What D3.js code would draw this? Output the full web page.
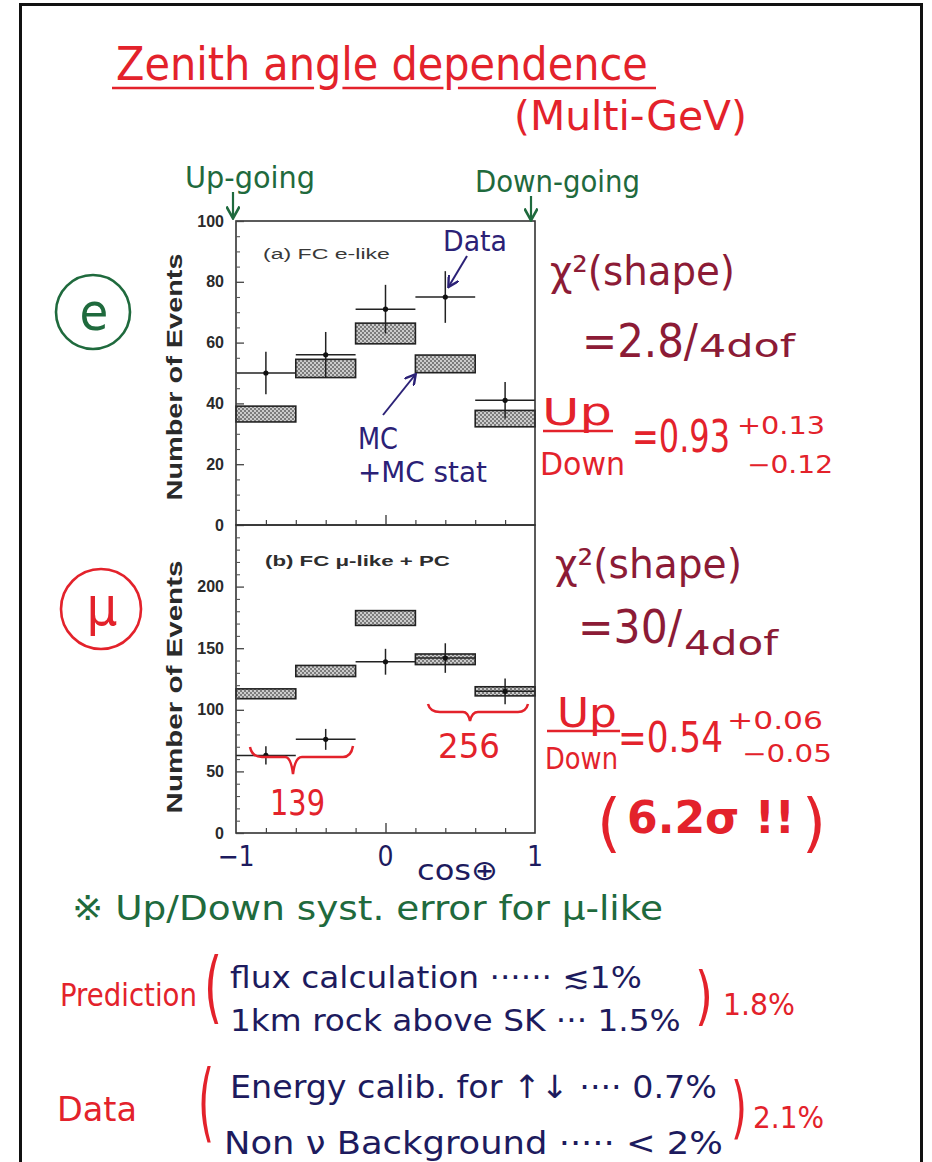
<!DOCTYPE html>
<html><head><meta charset="utf-8">
<script src="https://cdn.jsdelivr.net/npm/d3@7"></script>
<style>body{margin:0;background:#fff}</style></head>
<body><svg id="c" width="932" height="1162"></svg>
<script>
// ---- data ----
const binLo = [-1, -0.6, -0.2, 0.2, 0.6];
const binHi = [-0.6, -0.2, 0.2, 0.6, 1];
const binMid = [-0.8, -0.4, 0, 0.4, 0.8];
const eData = [50, 56, 71, 75, 41];
const eDataErr = [7, 7.5, 8, 8.5, 6];
const eMC = [36.5, 51.5, 63, 53, 35];
const eMCErr = [2.6, 3, 3.4, 2.9, 2.7];
const muData = [63, 76, 139, 142, 115];
const muDataErr = [7.5, 8.5, 10.5, 12, 10.5];
const muMC = [113, 131.5, 174.5, 141, 115];
const muMCErr = [4, 4.5, 6, 4.3, 3.7];
const xTicks = [-1, -0.8, -0.6, -0.4, -0.2, 0, 0.2, 0.4, 0.6, 0.8, 1];
const eYTicks = [0, 20, 40, 60, 80, 100];
const muYTicks = [0, 50, 100, 150, 200];
const xLabels = [["−1", -1], ["0", 0], ["1", 1]];

const HAND = "'DejaVu Sans Condensed','Liberation Sans Narrow','DejaVu Sans',sans-serif";
const ARIAL = "'Liberation Sans',Arial,sans-serif";
const RED = "#e3222b", GREEN = "#1f6a3d", MAROON = "#8c1b36", NAVY = "#1d1b5e", PURPLE = "#2b2176";

const svg = d3.select("#c");
const defs = svg.append("defs");
const pat = defs.append("pattern").attr("id", "hatch").attr("patternUnits", "userSpaceOnUse")
  .attr("width", 4).attr("height", 4);
pat.append("rect").attr("width", 4).attr("height", 4).attr("fill", "#7c7c7c");
pat.append("circle").attr("cx", 1).attr("cy", 1).attr("r", 0.9).attr("fill", "#f2f2f2");
pat.append("circle").attr("cx", 3).attr("cy", 3).attr("r", 0.9).attr("fill", "#f2f2f2");
const mk = defs.append("marker").attr("id", "ah").attr("viewBox", "0 0 10 10").attr("refX", 8).attr("refY", 5)
  .attr("markerWidth", 6).attr("markerHeight", 6).attr("orient", "auto-start-reverse");
mk.append("path").attr("d", "M0,0 L9,5 L0,10").attr("fill", "none").attr("stroke", "context-stroke").attr("stroke-width", 2);

// outer border
svg.append("rect").attr("x", 20.5).attr("y", 4.5).attr("width", 901).attr("height", 1175)
  .attr("fill", "none").attr("stroke", "#111").attr("stroke-width", 3);

// text helper: width is fitted by a horizontal scale so the box stays true
function txt(x, y, s, size, color, width, opts = {}) {
  const t = svg.append("text").attr("x", 0).attr("y", 0).text(s)
    .attr("font-family", opts.font || HAND).attr("font-size", size).attr("fill", color)
    .attr("font-weight", opts.weight || "normal");
  if (opts.anchor) t.attr("text-anchor", opts.anchor);
  let sx = 1;
  if (width) {
    const w = t.node().getComputedTextLength();
    if (w > 0) sx = width / w;
  }
  t.attr("transform", `translate(${x},${y}) scale(${sx},1)`);
  return t;
}
function arrow(x1, y1, x2, y2, color, w) {
  svg.append("line").attr("x1", x1).attr("y1", y1).attr("x2", x2).attr("y2", y2)
    .attr("stroke", color).attr("stroke-width", w || 2).attr("marker-end", "url(#ah)");
}

// ---- panels ----
function panel(cfg) {
  const x = d3.scaleLinear().domain([-1, 1]).range(cfg.xr);
  const y = d3.scaleLinear().domain(cfg.yd).range(cfg.yr);
  const g = svg.append("g");
  g.selectAll("rect.mc").data(cfg.mc).join("rect").attr("class", "mc")
    .attr("x", (d, i) => x(binLo[i])).attr("width", (d, i) => x(binHi[i]) - x(binLo[i]))
    .attr("y", (d, i) => y(d + cfg.mcErr[i])).attr("height", (d, i) => y(d - cfg.mcErr[i]) - y(d + cfg.mcErr[i]))
    .attr("fill", "url(#hatch)").attr("stroke", "#222").attr("stroke-width", 1.6);
  g.selectAll("line.h").data(cfg.data).join("line").attr("class", "h")
    .attr("x1", (d, i) => x(binLo[i])).attr("x2", (d, i) => x(binHi[i]))
    .attr("y1", d => y(d)).attr("y2", d => y(d)).attr("stroke", "#222").attr("stroke-width", 1.5);
  g.selectAll("line.v").data(cfg.data).join("line").attr("class", "v")
    .attr("x1", (d, i) => x(binMid[i])).attr("x2", (d, i) => x(binMid[i]))
    .attr("y1", (d, i) => y(d + cfg.err[i])).attr("y2", (d, i) => y(d - cfg.err[i]))
    .attr("stroke", "#222").attr("stroke-width", 1.5);
  g.selectAll("circle.p").data(cfg.data).join("circle").attr("class", "p")
    .attr("cx", (d, i) => x(binMid[i])).attr("cy", d => y(d)).attr("r", 2.6).attr("fill", "#111");
  g.append("rect").attr("x", cfg.xr[0]).attr("y", cfg.yr[1]).attr("width", cfg.xr[1] - cfg.xr[0])
    .attr("height", cfg.yr[0] - cfg.yr[1]).attr("fill", "none").attr("stroke", "#333").attr("stroke-width", 1.6);
  const ya = g.append("g").attr("transform", `translate(${cfg.xr[0]},0)`)
    .call(d3.axisLeft(y).tickValues(cfg.yTicks).tickSize(-8).tickPadding(12));
  ya.select(".domain").remove();
  ya.selectAll("text").attr("font-family", ARIAL).attr("font-size", 16).attr("fill", "#2a2a2a").attr("font-weight", "bold");
  ya.selectAll("line").attr("stroke", "#444").attr("stroke-width", 1.3);
  const ym = g.append("g").attr("transform", `translate(${cfg.xr[0]},0)`)
    .call(d3.axisLeft(y).tickValues(d3.range(cfg.yd[0], cfg.yd[1], cfg.minor).filter(v => !cfg.yTicks.includes(v)))
      .tickSize(-4).tickFormat(""));
  ym.select(".domain").remove();
  ym.selectAll("line").attr("stroke", "#555").attr("stroke-width", 1.1);
  const xa = g.append("g").attr("transform", `translate(0,${cfg.yr[0]})`)
    .call(d3.axisBottom(x).tickValues(xTicks.filter(v => v !== 0 && Math.abs(v) !== 1)).tickSize(-5).tickFormat(""));
  xa.select(".domain").remove();
  xa.selectAll("line").attr("stroke", "#444").attr("stroke-width", 1.2);
  const xm = g.append("g").attr("transform", `translate(0,${cfg.yr[0]})`)
    .call(d3.axisBottom(x).tickValues([0]).tickSize(-10).tickFormat(""));
  xm.select(".domain").remove();
  xm.selectAll("line").attr("stroke", "#444").attr("stroke-width", 1.4);
  const yt = svg.append("text").attr("text-anchor", "middle").attr("font-family", ARIAL).attr("font-size", 22)
    .attr("font-weight", "bold").attr("fill", "#2a2a2a").text("Number of Events");
  const w = yt.node().getComputedTextLength() || cfg.titleW;
  yt.attr("transform", `translate(182,${cfg.titleY}) rotate(-90) scale(${cfg.titleW / w},1)`);
  return { x, y };
}

const panelE = panel({ xr: [236, 535], yr: [525, 221], yd: [0, 100], yTicks: eYTicks, minor: 5,
  data: eData, err: eDataErr, mc: eMC, mcErr: eMCErr, titleY: 377, titleW: 247 });
const panelMu = panel({ xr: [236, 535], yr: [833, 525], yd: [0, 250], yTicks: muYTicks, minor: 10,
  data: muData, err: muDataErr, mc: muMC, mcErr: muMCErr, titleY: 687, titleW: 253 });

txt(263, 259, "(a) FC e-like", 15, "#383838", 127, { font: ARIAL });
txt(265, 566, "(b) FC μ-like + PC", 15, "#2e2e2e", 185, { font: ARIAL, weight: "bold" });

xLabels.forEach(([s, v]) => txt(panelMu.x(v), 866, s, 28, NAVY, null, { anchor: "middle" }));
txt(417, 880, "cos⊕", 28, NAVY, 81);

// ---- title ----
const title = txt(116, 80, "Zenith angle dependence", 46, RED, 532);
(function underline() {
  const n = title.node();
  const sx = 532 / (n.getComputedTextLength() || 532);
  let gx = [346, 370], px = [480, 498];
  try {
    const eg = n.getExtentOfChar(9), ep = n.getExtentOfChar(15);
    gx = [116 + eg.x * sx - 1, 116 + (eg.x + eg.width) * sx + 1];
    px = [116 + ep.x * sx, 116 + (ep.x + ep.width * 0.55) * sx];
  } catch (e) {}
  [[112, gx[0]], [gx[1], px[0]], [px[1], 656]].forEach(([a, b]) =>
    svg.append("line").attr("x1", a).attr("x2", b).attr("y1", 88).attr("y2", 88).attr("stroke", RED).attr("stroke-width", 2.5));
})();
txt(514, 130, "(Multi-GeV)", 40, RED, 233);

txt(185, 188, "Up-going", 30, GREEN, 130);
txt(475, 192, "Down-going", 30, GREEN, 165);
arrow(233, 192, 233, 217, GREEN, 2.2);
arrow(531, 196, 531, 219, GREEN, 2.2);

svg.append("circle").attr("cx", 93).attr("cy", 312).attr("r", 37).attr("fill", "none").attr("stroke", GREEN).attr("stroke-width", 2.6);
txt(94, 330, "e", 52, GREEN, null, { anchor: "middle" });
svg.append("circle").attr("cx", 101).attr("cy", 609).attr("r", 40).attr("fill", "none").attr("stroke", RED).attr("stroke-width", 2.6);
txt(102, 625, "μ", 54, RED, null, { anchor: "middle" });

txt(443, 251, "Data", 28, PURPLE, 64);
arrow(467, 256, 449, 286, PURPLE, 2);
txt(358, 449, "MC", 30, PURPLE, 40);
txt(358, 482, "+MC stat", 28, PURPLE, 129);
arrow(383, 415, 415, 375, PURPLE, 2);

svg.append("path").attr("d", "M250,747 Q252,757 262,757 L285,757 Q291,757 293,774 Q295,757 302,757 L343,757 Q351,757 353,746")
  .attr("fill", "none").attr("stroke", RED).attr("stroke-width", 2.5);
svg.append("path").attr("d", "M428,704 Q430,712 440,712 L463,712 Q468,712 470,721 Q472,712 478,712 L518,712 Q526,712 528,704")
  .attr("fill", "none").attr("stroke", RED).attr("stroke-width", 2.5);
txt(270, 815, "139", 36, RED, 55);
txt(438, 758, "256", 34, RED, 62);

txt(550, 285, "χ²(shape)", 40, MAROON, 185);
txt(582, 357, "=2.8/", 46, MAROON, 116);
txt(699, 357, "4dof", 32, MAROON, 96);
txt(542, 425, "Up", 38, RED, 70);
svg.append("line").attr("x1", 543).attr("x2", 613).attr("y1", 431).attr("y2", 431).attr("stroke", RED).attr("stroke-width", 2.5);
txt(540, 475, "Down", 32, RED, 85);
txt(632, 452, "=0.93", 44, RED, 98);
txt(737, 434, "+0.13", 24, RED, 88);
txt(747, 473, "−0.12", 24, RED, 86);

txt(555, 578, "χ²(shape)", 40, MAROON, 187);
txt(578, 643, "=30/", 46, MAROON, 104);
txt(684, 655, "4dof", 34, MAROON, 94);
txt(557, 727, "Up", 40, RED, 60);
svg.append("line").attr("x1", 547).attr("x2", 620).attr("y1", 731).attr("y2", 731).attr("stroke", RED).attr("stroke-width", 2.5);
txt(545, 769, "Down", 30, RED, 73);
txt(618, 752, "=0.54", 42, RED, 105);
txt(727, 729, "+0.06", 24, RED, 96);
txt(742, 762, "−0.05", 24, RED, 90);
txt(597, 845, "(", 64, RED, 24);
txt(627, 833, "6.2σ !!", 44, RED, 168, { weight: "bold" });
txt(802, 845, ")", 64, RED, 24);

txt(72, 920, "※ Up/Down syst. error for μ-like", 34, GREEN, 591);
txt(60, 1006, "Prediction", 32, RED, 137);
txt(204, 1014, "(", 78, RED, 18);
txt(230, 988, "flux calculation ······ ≲1%", 30, NAVY, 412);
txt(230, 1031, "1km rock above SK ··· 1.5%", 30, NAVY, 451);
txt(695, 1018, ")", 64, RED, 18);
txt(723, 1015, "1.8%", 30, RED, 72);
txt(57, 1121, "Data", 34, RED, 80);
txt(198, 1131, "(", 86, RED, 16);
txt(230, 1098, "Energy calib. for ↑↓ ···· 0.7%", 32, NAVY, 487);
txt(224, 1154, "Non ν Background ····· < 2%", 32, NAVY, 499);
txt(731, 1131, ")", 68, RED, 16);
txt(753, 1128, "2.1%", 30, RED, 71);
</script></body></html>
